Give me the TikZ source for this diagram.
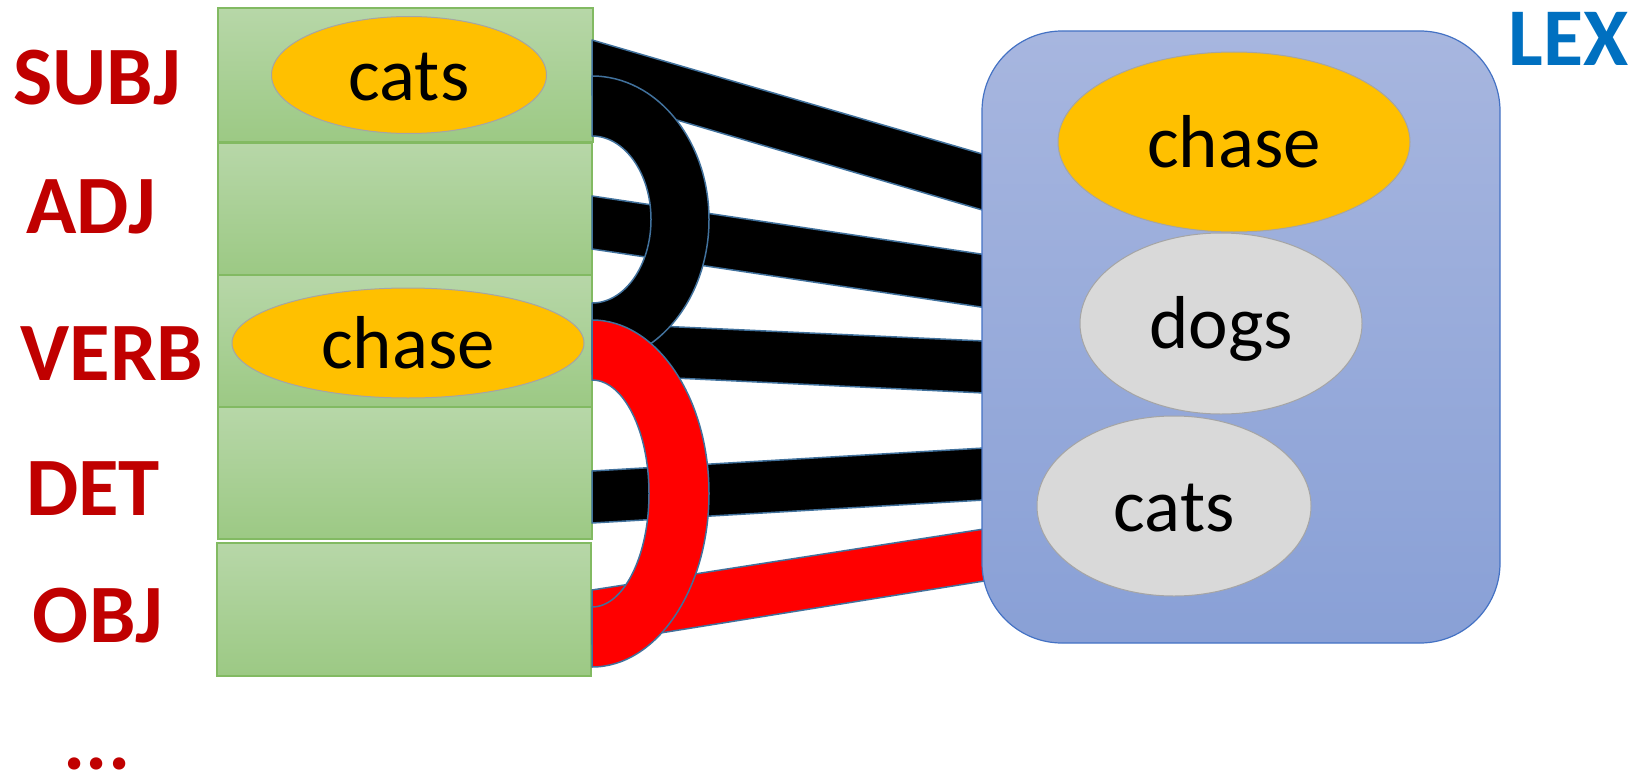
\documentclass[tikz,border=0pt]{standalone}
\usepackage{fontspec}
\setmainfont{Carlito}
\usetikzlibrary{shapes.geometric}

\definecolor{labred}{RGB}{192,0,0}
\definecolor{lexblue}{RGB}{0,112,192}
\definecolor{greentop}{RGB}{183,215,168}
\definecolor{greenbot}{RGB}{156,201,132}
\definecolor{greenedge}{RGB}{130,186,98}
\definecolor{lextop}{RGB}{167,182,223}
\definecolor{lexbot}{RGB}{137,160,214}
\definecolor{lexedge}{RGB}{68,114,196}
\definecolor{wordorange}{RGB}{255,192,0}
\definecolor{wordgrey}{RGB}{217,217,217}
\definecolor{ovaledge}{RGB}{165,165,165}
\definecolor{bandedge}{RGB}{65,113,156}

\begin{document}
\begin{tikzpicture}[x=1pt,y=-1pt,
  slotbox/.style={rectangle, draw=greenedge, line width=1.2pt,
    top color=greentop, bottom color=greenbot, inner sep=0pt},
  rolelabel/.style={text=labred, inner sep=0pt,
    font=\fontsize{83}{100}\selectfont\bfseries},
  word/.style={ellipse, draw=ovaledge, line width=1pt, inner sep=0pt,
    text height=60pt, text depth=10pt,
    font=\fontsize{75}{90}\selectfont},
  band/.style={draw=bandedge, line width=1.5pt, line join=round},
]
\useasboundingbox (0,0) rectangle (1643,776);

% sentence slots
\node[slotbox, minimum width=375pt, minimum height=134pt] (subjbox) at (405.5,75) {};
\node[slotbox, minimum width=374pt, minimum height=132pt] (adjbox)  at (405,209) {};
\node[slotbox, minimum width=374pt, minimum height=132pt] (verbbox) at (405,341) {};
\node[slotbox, minimum width=374pt, minimum height=132pt] (detbox)  at (405,473) {};
\node[slotbox, minimum width=374pt, minimum height=133pt] (objbox)  at (404,609.5) {};

% role labels
\node[rolelabel] (subjlab) at (97,78)  {SUBJ};
\node[rolelabel] (adjlab)  at (91,207) {ADJ};
\node[rolelabel] (verblab) at (112,354) {VERB};
\node[rolelabel] (detlab)  at (93,489) {DET};
\node[rolelabel] (objlab)  at (98,616) {OBJ};
\node[rolelabel] (morelab) at (97,764) {...};

% words filling the slots
\node[word, fill=wordorange, minimum width=275pt, minimum height=117pt] (slotcats) at (409,75) {cats};
\node[word, fill=wordorange, minimum width=352pt, minimum height=110pt] (slotchase) at (408,343) {chase};

% band end points
\coordinate (s1a) at (592,40);  \coordinate (l1a) at (984,154.5);
\coordinate (l1b) at (984,210.5); \coordinate (s1b) at (592,95);
\coordinate (s2a) at (592,196); \coordinate (l2a) at (984,254.5);
\coordinate (l2b) at (984,307.5); \coordinate (s2b) at (592,249);
\coordinate (s3a) at (592,323); \coordinate (l3a) at (984,341);
\coordinate (l3b) at (984,393); \coordinate (s3b) at (592,374);
\coordinate (s4a) at (592,471); \coordinate (l4a) at (984,448);
\coordinate (l4b) at (984,500); \coordinate (s4b) at (592,523);
\coordinate (s5a) at (592,590); \coordinate (l5a) at (984,529);
\coordinate (l5b) at (984,581); \coordinate (s5b) at (592,644);

% bands from the slots to the lexicon
\filldraw[band, fill=black] (s1a) -- (l1a) -- (l1b) -- (s1b) -- cycle;
\filldraw[band, fill=black] (s2a) -- (l2a) -- (l2b) -- (s2b) -- cycle;
\filldraw[band, fill=black] (s3a) -- (l3a) -- (l3b) -- (s3b) -- cycle;
\filldraw[band, fill=black] (s4a) -- (l4a) -- (l4b) -- (s4b) -- cycle;
\filldraw[band, fill=red]   (s5a) -- (l5a) -- (l5b) -- (s5b) -- cycle;

% loops binding slots together
\coordinate (bkout) at (592,76);  \coordinate (bkin) at (592,303);
\coordinate (rdout) at (592,320); \coordinate (rdin) at (592,607);
\filldraw[band, fill=black] (bkout)
  arc[start angle=90, end angle=-90, x radius=117pt, y radius=143.5pt]
  -- (bkin)
  arc[start angle=-90, end angle=90, x radius=59pt, y radius=83.5pt]
  -- cycle;
\filldraw[band, fill=red] (rdout)
  arc[start angle=90, end angle=-90, x radius=117pt, y radius=173.5pt]
  -- (rdin)
  arc[start angle=-90, end angle=90, x radius=57pt, y radius=113.5pt]
  -- cycle;

% lexicon
\node[rectangle, rounded corners=80pt, draw=lexedge, line width=1.2pt,
  top color=lextop, bottom color=lexbot,
  minimum width=518pt, minimum height=612pt] (lexbox) at (1241,337) {};
\node[word, fill=wordorange, minimum width=352pt, minimum height=180pt] (lexchase) at (1234,142) {chase};
\node[word, fill=wordgrey, minimum width=282pt, minimum height=181pt] (lexdogs) at (1221,323.5) {dogs};
\node[word, fill=wordgrey, minimum width=274pt, minimum height=180pt] (lexcats) at (1174,506) {cats};
\node[text=lexblue, inner sep=0pt, font=\fontsize{82}{98}\selectfont\bfseries] (lextitle) at (1568.5,38.5) {LEX};
\end{tikzpicture}
\end{document}
